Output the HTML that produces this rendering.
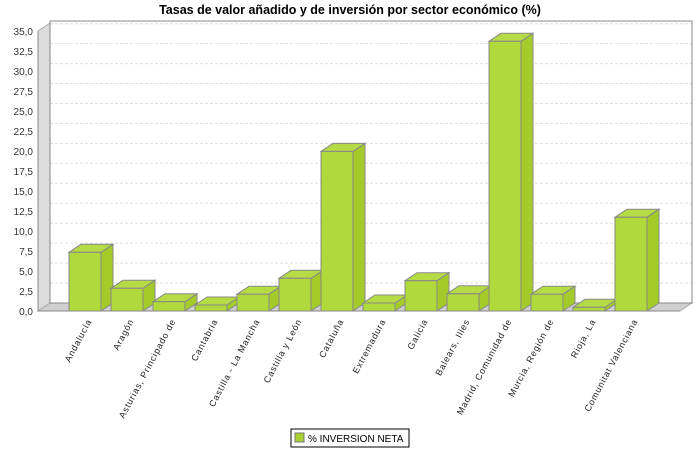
<!DOCTYPE html>
<html><head><meta charset="utf-8"><style>body{margin:0;background:#fff}svg{display:block}</style></head><body>
<svg width="700" height="450" xmlns="http://www.w3.org/2000/svg" font-family="Liberation Sans, sans-serif">
<rect width="700" height="450" fill="#fff"/>
<polygon points="38,31 50,23 50,303 38,311" fill="#dcdcdc" stroke="#aaa" stroke-width="1"/>
<polygon points="38,311 50,303 692,303 680,311" fill="#d0d0d0" stroke="#aaa" stroke-width="1"/>
<rect x="50" y="21" width="642" height="282" fill="#fff"/>
<g stroke="#ddd" stroke-dasharray="3,2" stroke-width="1">
<line x1="50" y1="283.0" x2="692" y2="283.0"/><line x1="50" y1="263.1" x2="692" y2="263.1"/><line x1="50" y1="243.1" x2="692" y2="243.1"/><line x1="50" y1="223.2" x2="692" y2="223.2"/><line x1="50" y1="203.2" x2="692" y2="203.2"/><line x1="50" y1="183.3" x2="692" y2="183.3"/><line x1="50" y1="163.3" x2="692" y2="163.3"/><line x1="50" y1="143.4" x2="692" y2="143.4"/><line x1="50" y1="123.4" x2="692" y2="123.4"/><line x1="50" y1="103.5" x2="692" y2="103.5"/><line x1="50" y1="83.5" x2="692" y2="83.5"/><line x1="50" y1="63.6" x2="692" y2="63.6"/><line x1="50" y1="43.6" x2="692" y2="43.6"/><line x1="50" y1="23.7" x2="692" y2="23.7"/>
</g>
<rect x="50" y="21" width="642" height="282" fill="none" stroke="#888"/>
<line x1="38" y1="311" x2="680" y2="311" stroke="#888"/>
<line x1="38" y1="31" x2="38" y2="311" stroke="#888"/>
<text x="350" y="14" text-anchor="middle" font-size="12.5" font-weight="bold">Tasas de valor añadido y de inversión por sector económico (%)</text>
<g font-size="10" text-anchor="end" fill="#333">
<text x="33" y="315">0,0</text><text x="33" y="295">2,5</text><text x="33" y="275">5,0</text><text x="33" y="255">7,5</text><text x="33" y="235">10,0</text><text x="33" y="215">12,5</text><text x="33" y="195">15,0</text><text x="33" y="175">17,5</text><text x="33" y="155">20,0</text><text x="33" y="135">22,5</text><text x="33" y="115">25,0</text><text x="33" y="95">27,5</text><text x="33" y="75">30,0</text><text x="33" y="55">32,5</text><text x="33" y="35">35,0</text>
</g>
<g stroke="#888" stroke-width="1">
<polygon points="101,311 113,303 113,244.3 101,252.3" fill="#a3cc2a"/><polygon points="69,252.3 81,244.3 113,244.3 101,252.3" fill="#b5dc45"/><rect x="69" y="252.3" width="32" height="58.7" fill="#b0d93c"/>
<polygon points="143,311 155,303 155,280.3 143,288.3" fill="#a3cc2a"/><polygon points="111,288.3 123,280.3 155,280.3 143,288.3" fill="#b5dc45"/><rect x="111" y="288.3" width="32" height="22.7" fill="#b0d93c"/>
<polygon points="185,311 197,303 197,293.7 185,301.7" fill="#a3cc2a"/><polygon points="153,301.7 165,293.7 197,293.7 185,301.7" fill="#b5dc45"/><rect x="153" y="301.7" width="32" height="9.3" fill="#b0d93c"/>
<polygon points="227,311 239,303 239,297 227,305" fill="#a3cc2a"/><polygon points="195,305 207,297 239,297 227,305" fill="#b5dc45"/><rect x="195" y="305" width="32" height="6" fill="#b0d93c"/>
<polygon points="269,311 281,303 281,286.2 269,294.2" fill="#a3cc2a"/><polygon points="237,294.2 249,286.2 281,286.2 269,294.2" fill="#b5dc45"/><rect x="237" y="294.2" width="32" height="16.8" fill="#b0d93c"/>
<polygon points="311,311 323,303 323,270.3 311,278.3" fill="#a3cc2a"/><polygon points="279,278.3 291,270.3 323,270.3 311,278.3" fill="#b5dc45"/><rect x="279" y="278.3" width="32" height="32.7" fill="#b0d93c"/>
<polygon points="353,311 365,303 365,143.4 353,151.4" fill="#a3cc2a"/><polygon points="321,151.4 333,143.4 365,143.4 353,151.4" fill="#b5dc45"/><rect x="321" y="151.4" width="32" height="159.6" fill="#b0d93c"/>
<polygon points="395,311 407,303 407,295 395,303" fill="#a3cc2a"/><polygon points="363,303 375,295 407,295 395,303" fill="#b5dc45"/><rect x="363" y="303" width="32" height="8" fill="#b0d93c"/>
<polygon points="437,311 449,303 449,272.7 437,280.7" fill="#a3cc2a"/><polygon points="405,280.7 417,272.7 449,272.7 437,280.7" fill="#b5dc45"/><rect x="405" y="280.7" width="32" height="30.3" fill="#b0d93c"/>
<polygon points="479,311 491,303 491,285.8 479,293.8" fill="#a3cc2a"/><polygon points="447,293.8 459,285.8 491,285.8 479,293.8" fill="#b5dc45"/><rect x="447" y="293.8" width="32" height="17.2" fill="#b0d93c"/>
<polygon points="521,311 533,303 533,33.3 521,41.3" fill="#a3cc2a"/><polygon points="489,41.3 501,33.3 533,33.3 521,41.3" fill="#b5dc45"/><rect x="489" y="41.3" width="32" height="269.7" fill="#b0d93c"/>
<polygon points="563,311 575,303 575,286.2 563,294.2" fill="#a3cc2a"/><polygon points="531,294.2 543,286.2 575,286.2 563,294.2" fill="#b5dc45"/><rect x="531" y="294.2" width="32" height="16.8" fill="#b0d93c"/>
<polygon points="605,311 617,303 617,299.3 605,307.3" fill="#a3cc2a"/><polygon points="573,307.3 585,299.3 617,299.3 605,307.3" fill="#b5dc45"/><rect x="573" y="307.3" width="32" height="3.7" fill="#b0d93c"/>
<polygon points="647,311 659,303 659,209.2 647,217.2" fill="#a3cc2a"/><polygon points="615,217.2 627,209.2 659,209.2 647,217.2" fill="#b5dc45"/><rect x="615" y="217.2" width="32" height="93.8" fill="#b0d93c"/>
</g>
<g font-size="9" fill="#222" text-anchor="end" letter-spacing="0.8">
<text transform="translate(92,321) rotate(-62)">Andalucía</text>
<text transform="translate(134,321) rotate(-62)">Aragón</text>
<text transform="translate(176,321) rotate(-62)">Asturias, Principado de</text>
<text transform="translate(218,321) rotate(-62)">Cantabria</text>
<text transform="translate(260,321) rotate(-62)">Castilla - La Mancha</text>
<text transform="translate(302,321) rotate(-62)">Castilla y León</text>
<text transform="translate(344,321) rotate(-62)">Cataluña</text>
<text transform="translate(386,321) rotate(-62)">Extremadura</text>
<text transform="translate(428,321) rotate(-62)">Galicia</text>
<text transform="translate(470,321) rotate(-62)">Balears, Illes</text>
<text transform="translate(512,321) rotate(-62)">Madrid, Comunidad de</text>
<text transform="translate(554,321) rotate(-62)">Murcia, Región de</text>
<text transform="translate(596,321) rotate(-62)">Rioja, La</text>
<text transform="translate(638,321) rotate(-62)">Comunitat Valenciana</text>
</g>
<rect x="291" y="429" width="118" height="18" fill="#fff" stroke="#000"/>
<rect x="295" y="433" width="9" height="9" fill="#a8d12f" stroke="#777"/>
<text x="308" y="442" font-size="10">% INVERSION NETA</text>
</svg>
</body></html>
